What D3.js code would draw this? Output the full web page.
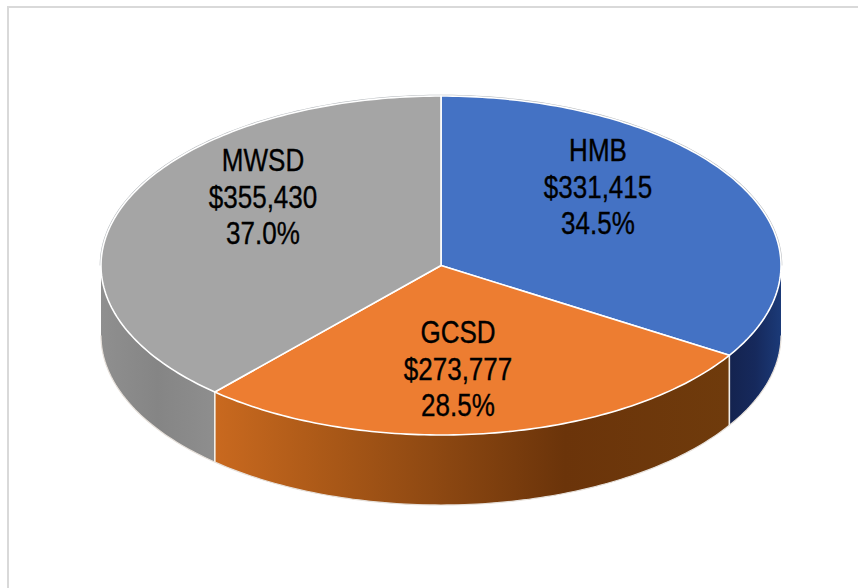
<!DOCTYPE html>
<html>
<head>
<meta charset="utf-8">
<script src="https://cdn.jsdelivr.net/npm/d3@7"></script>
<style>
  html, body { margin: 0; padding: 0; background: #fff; }
  svg { display: block; }
  text { font-family: "Liberation Sans", sans-serif; fill: #000; stroke: #000; stroke-width: 0.35px; }
</style>
</head>
<body>
<svg id="chart" width="858" height="588"></svg>
<script>
const WIDTH = 858, HEIGHT = 588;

const categories = ['HMB', 'GCSD', 'MWSD'];
const amounts = [331415, 273777, 355430];
const percents = ['34.5%', '28.5%', '37.0%'];
const topColors = ['#4472c4', '#ed7d31', '#a5a5a5'];

// ellipse of the pie's top face, and how far the wall drops
const cx = 441, cy = 265.5, rx = 340, ry = 169.5, depth = 70;

// the 3D camera in the original squeezes angles a bit, this bends them to match
const camera = d3.scaleLinear()
  .domain([0, 124.2, 226.8, 360])
  .range([0, 122, 221.7, 360]);

const slices = d3.pie().sort(null).value(d => d)(amounts).map((s, i) => ({
  name: categories[i],
  color: topColors[i],
  start: camera(s.startAngle * 180 / Math.PI),
  end: camera(s.endAngle * 180 / Math.PI)
}));

const px = a => cx + rx * Math.sin(a * Math.PI / 180);
const py = a => cy - ry * Math.cos(a * Math.PI / 180);

function arcPoints(a0, a1){
  const n = Math.max(2, Math.ceil(Math.abs(a1 - a0)));
  return d3.range(n + 1).map(i => {
    const a = a0 + (a1 - a0) * i / n;
    return [px(a), py(a)];
  });
}

const line = d3.line();
const svg = d3.select('#chart');

// ---------------- frame, cut off by the crop on the right and bottom ----------------
svg.append('path')
  .attr('d', `M8,${HEIGHT}V7H${WIDTH}`)
  .attr('fill', 'none')
  .attr('stroke', '#d9d9d9')
  .attr('stroke-width', 2);

// ---------------- wall gradients ----------------
const defs = svg.append('defs');
const wallStops = {
  HMB: [[0, '#1b3a78'], [0.5, '#16295c'], [1, '#14234f']],
  GCSD: [[0, '#c9691f'], [0.2, '#ad5a18'], [0.42, '#8f4912'], [0.68, '#6b340a'], [1, '#6f3b0c']],
  MWSD: [[0, '#8f8f8f'], [0.5, '#858585'], [1, '#8e8e8e']]
};

// only the part of each slice between 90 and 270 degrees faces the viewer
const walls = slices
  .map(s => ({...s, a0: Math.max(s.start, 90), a1: Math.min(s.end, 270)}))
  .filter(s => s.a1 > s.a0);

walls.forEach(w => {
  const grad = defs.append('linearGradient')
    .attr('id', `wall-${w.name}`)
    .attr('gradientUnits', 'userSpaceOnUse')
    .attr('x1', px(w.a1)).attr('x2', px(w.a0))
    .attr('y1', 0).attr('y2', 0);
  if(w.name === 'HMB') grad.attr('x1', px(w.a0)).attr('x2', px(w.a1));
  wallStops[w.name].forEach(([o, c]) => {
    grad.append('stop').attr('offset', o).attr('stop-color', c);
  });
});

svg.selectAll('path.wall')
  .data(walls)
  .join('path')
  .attr('class', 'wall')
  .attr('d', d => {
    const upper = arcPoints(d.a0, d.a1);
    const lower = arcPoints(d.a1, d.a0).map(([x, y]) => [x, y + depth]);
    return line(upper.concat(lower)) + 'Z';
  })
  .attr('fill', d => `url(#wall-${d.name})`);

// pale outline along the bottom of the wall
svg.append('path')
  .attr('d', line(arcPoints(90, 270).map(([x, y]) => [x, y + depth])))
  .attr('fill', 'none')
  .attr('stroke', '#e6e0da')
  .attr('stroke-width', 1.2);

// white seams between the walls
svg.selectAll('line.seam')
  .data(slices.filter(s => s.end > 90 && s.end < 270))
  .join('line')
  .attr('class', 'seam')
  .attr('x1', d => px(d.end)).attr('x2', d => px(d.end))
  .attr('y1', d => py(d.end)).attr('y2', d => py(d.end) + depth)
  .attr('stroke', '#f2efe9')
  .attr('stroke-width', 1.6);

// thin grey rim behind the white edge of the back half
svg.append('path')
  .attr('d', line(arcPoints(-90, 90)))
  .attr('fill', 'none')
  .attr('stroke', '#b4b8bc')
  .attr('stroke-width', 2.6);

// ---------------- top face ----------------
svg.selectAll('path.face')
  .data(slices)
  .join('path')
  .attr('class', 'face')
  .attr('d', d => line([[cx, cy]].concat(arcPoints(d.start, d.end))) + 'Z')
  .attr('fill', d => d.color)
  .attr('stroke', '#fff')
  .attr('stroke-width', 1.6)
  .attr('stroke-linejoin', 'round');

// ---------------- labels ----------------
const labelX = [598, 458, 263];
const labelY = [161, 343, 171];
const lineGap = 36.5;
const narrow = 0.84; // no Arial Narrow here, squeeze Liberation Sans instead

const labelLines = categories.flatMap((c, i) =>
  [c, '$' + d3.format(',')(amounts[i]), percents[i]].map((t, j) => ({
    t,
    x: labelX[i],
    y: labelY[i] + j * lineGap
  }))
);

svg.selectAll('text.label')
  .data(labelLines)
  .join('text')
  .attr('class', 'label')
  .attr('text-anchor', 'middle')
  .attr('font-size', 31)
  .attr('transform', d => `translate(${d.x},${d.y}) scale(${narrow},1)`)
  .text(d => d.t);
</script>
</body>
</html>
